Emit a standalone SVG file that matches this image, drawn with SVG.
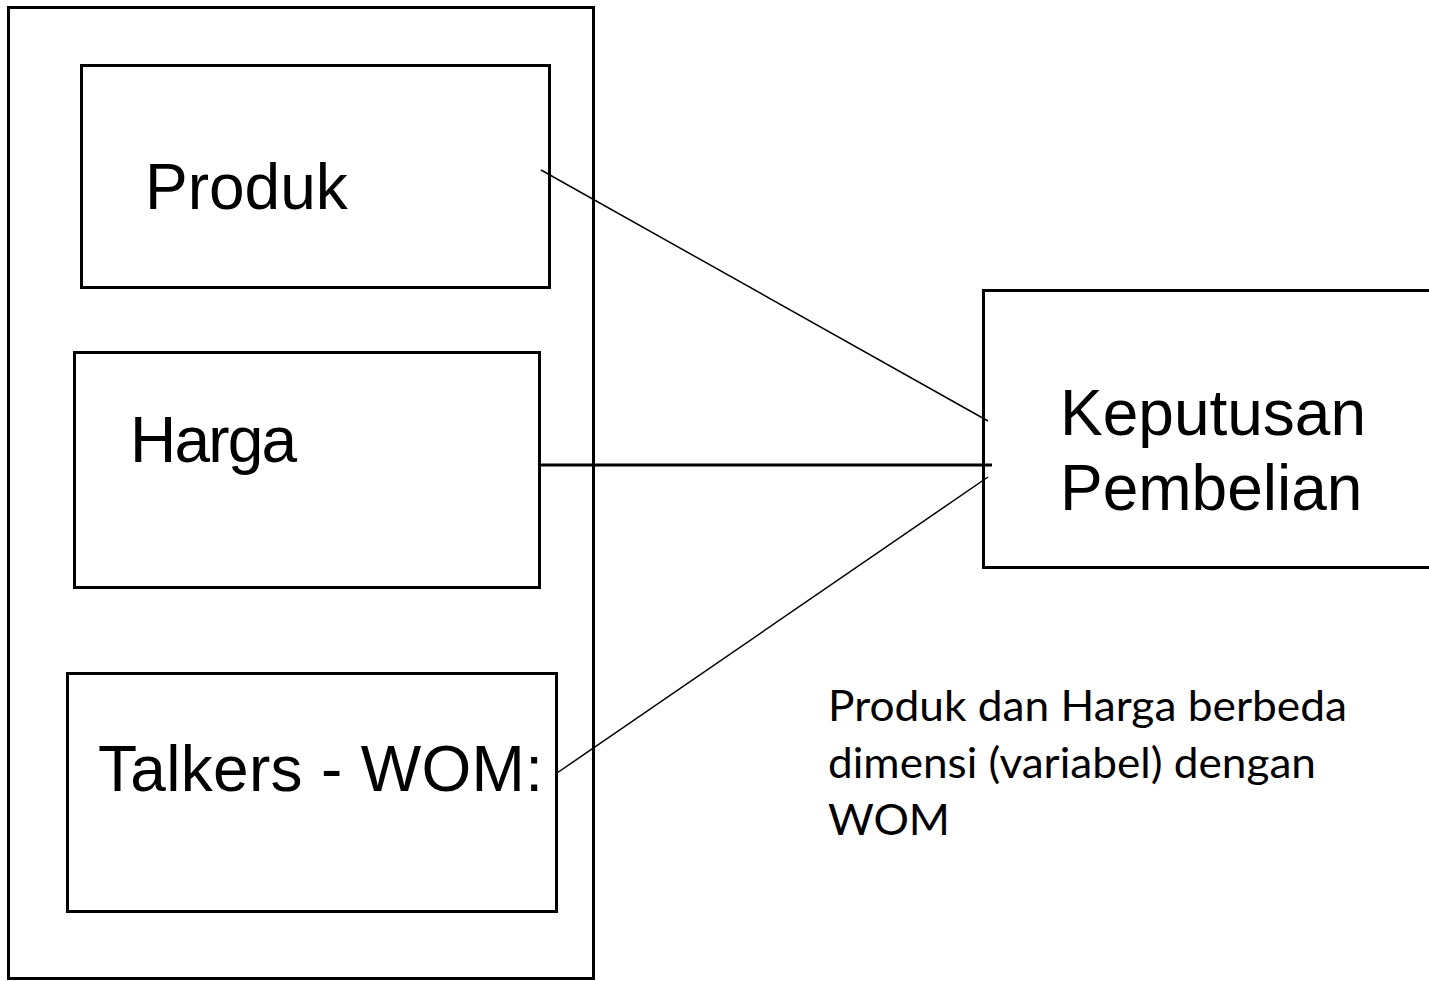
<svg xmlns="http://www.w3.org/2000/svg" width="1429" height="981" viewBox="0 0 1429 981">
<style>
.box{fill:#fff;stroke:#000;stroke-width:3}
.lbl{font-family:"Liberation Sans",Arial,sans-serif;font-size:64px;fill:#000}
.note{font-family:Lato,"Open Sans",sans-serif;font-size:42px;fill:#000}
.thin{stroke:#000;stroke-width:1.5;fill:none}
.thick{stroke:#000;stroke-width:3;fill:none}
</style>
<rect width="1429" height="981" fill="#fff"/>
<g id="group-outer"><rect class="box" x="8.5" y="7.5" width="585" height="971"/></g>
<g id="node-produk"><rect class="box" x="81.5" y="65.5" width="468" height="222"/><text class="lbl" x="145" y="209">Produk</text></g>
<g id="node-harga"><rect class="box" x="74.5" y="352.5" width="465" height="235"/><text class="lbl" x="130" y="462" textLength="167">Harga</text></g>
<g id="node-talkers"><rect class="box" x="67.5" y="673.5" width="489" height="238"/><text class="lbl" x="98" y="791" textLength="445">Talkers - WOM:</text></g>
<g id="node-keputusan"><rect class="box" x="983.5" y="290.5" width="460" height="277"/><text class="lbl" x="1060" y="435">Keputusan</text><text class="lbl" x="1060" y="510">Pembelian</text></g>
<g id="connectors">
<line class="thin" x1="541" y1="170" x2="988" y2="421"/>
<line class="thick" x1="539" y1="465" x2="992" y2="465"/>
<line class="thin" x1="557" y1="773" x2="988" y2="477"/>
</g>
<g id="note"><text class="note" x="828" y="721" textLength="519" lengthAdjust="spacingAndGlyphs">Produk dan Harga berbeda</text><text class="note" x="828" y="778" textLength="488" lengthAdjust="spacingAndGlyphs">dimensi (variabel) dengan</text><text class="note" x="828" y="835" textLength="122" lengthAdjust="spacingAndGlyphs">WOM</text></g>
</svg>
